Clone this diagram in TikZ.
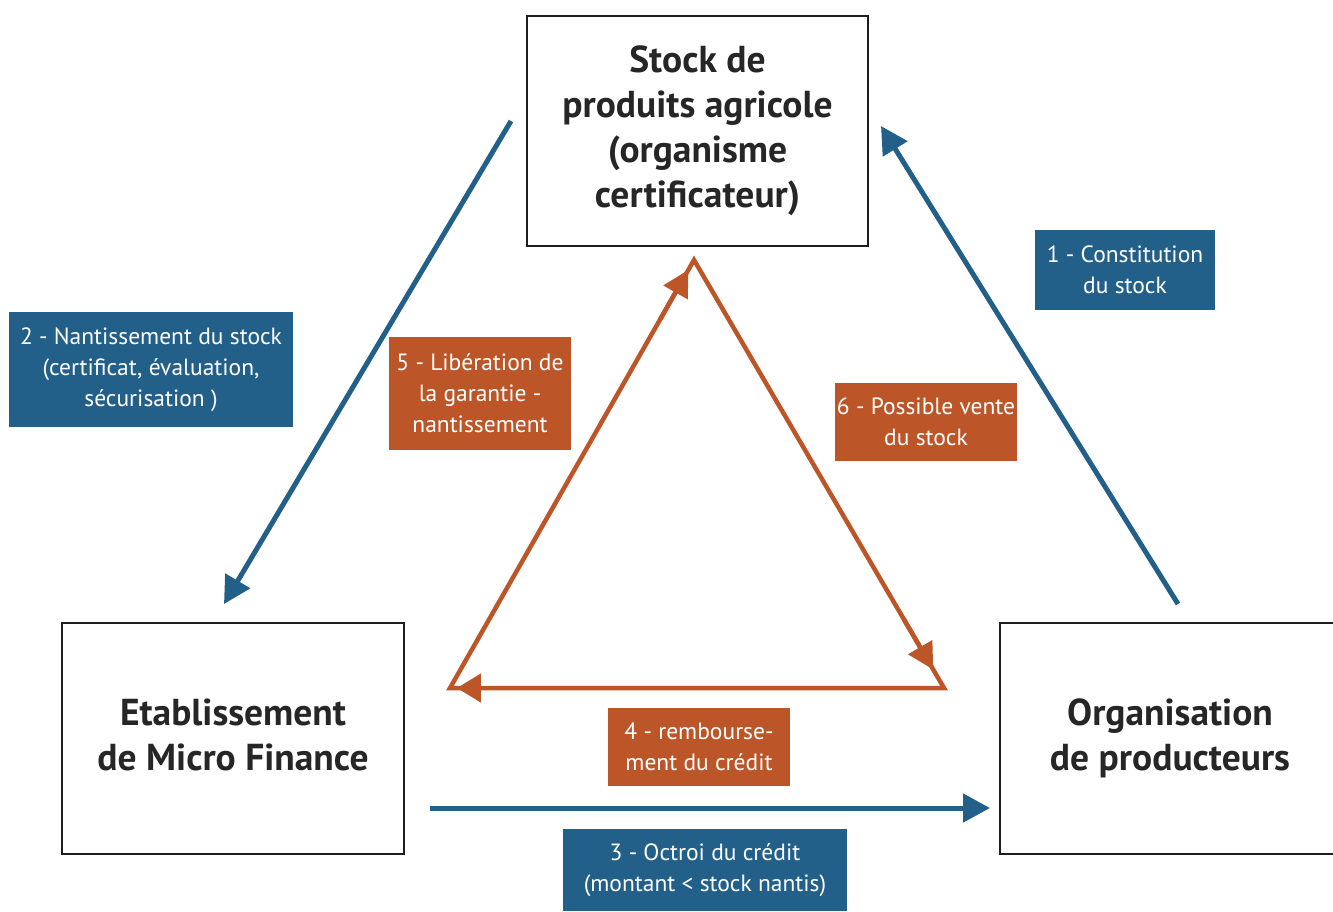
\documentclass[tikz,border=0pt]{standalone}
\usepackage{fontspec}
\setmainfont{PT Sans}
\usetikzlibrary{arrows.meta,calc}
\definecolor{bblue}{RGB}{35,96,137}
\definecolor{borange}{RGB}{188,86,40}
\definecolor{bframe}{RGB}{30,30,30}
\newcommand\liftup[2]{\raisebox{#1}{\begin{tabular}{@{}c@{}}#2\end{tabular}}}
\tikzset{
  entity/.style={draw=bframe, line width=2.6pt, fill=white, minimum width=#1, minimum height=230pt, inner sep=0pt, align=center,
    font=\bfseries\fontsize{37.5}{45}\selectfont, text=black!85},
  lbl/.style={fill=#1, text=white, inner sep=0pt, align=center, font=\fontsize{23.5}{31}\selectfont},
  bluearrow/.style={draw=bblue, line width=5pt, -{Triangle[length=27pt,width=28pt]}},
  orangeline/.style={draw=borange, line width=4.5pt, line join=miter},
}
\begin{document}
\begin{tikzpicture}[x=1pt,y=-1pt]
\useasboundingbox (0,0) rectangle (1333,911);
\clip (0,0) rectangle (1333,911);
% boxes
\node[entity=341pt] (stock) at (697.5,131) {\liftup{-1pt}{Stock de\\produits agricole\\(organisme\\certificateur)}};
\node[entity=342pt, minimum height=231pt] (emf) at (233,738.5) {\liftup{6pt}{Etablissement\\de Micro Finance}};
\node[entity=340pt, minimum height=231pt] (op) at (1170,738.5) {\liftup{5pt}{Organisation\\de producteurs}};
% blue arrow anchors
\coordinate (b2s) at (511,121);
\coordinate (b2e) at (224,604);
\coordinate (b1s) at (1178,604);
\coordinate (b1e) at (881,126);
\coordinate (b3s) at (430,808);
\coordinate (b3e) at (990,808);
\draw[bluearrow] (b2s) -- (b2e);
\draw[bluearrow] (b1s) -- (b1e);
\draw[bluearrow] (b3s) -- (b3e);
% orange triangle
\coordinate (ta) at (694,260);
\coordinate (tl) at (450,688);
\coordinate (tr) at (944,688);
\draw[orangeline] (tl) -- (ta) -- (tr) -- cycle;
\draw[orangeline, -{Triangle[length=26pt,width=27pt]}] ($(tl)!0.86!(ta)$) -- ($(tl)!0.977!(ta)$);
\draw[orangeline, -{Triangle[length=26pt,width=27pt]}] ($(ta)!0.84!(tr)$) -- ($(ta)!0.957!(tr)$);
\draw[orangeline, -{Triangle[length=24pt,width=28pt]}] ($(tr)!0.85!(tl)$) -- ($(tr)!0.986!(tl)$);
% labels
\node[lbl=bblue, minimum width=180pt, minimum height=80pt] (l1) at (1125,270) {1 - Constitution\\du stock};
\node[lbl=bblue, minimum width=284pt, minimum height=115pt] (l2) at (151,369.5) {2 - Nantissement du stock\\(certificat, évaluation,\\sécurisation )};
\node[lbl=bblue, minimum width=284pt, minimum height=82pt] (l3) at (705,870) {3 - Octroi du crédit\\(montant < stock nantis)};
\node[lbl=borange, minimum width=182pt, minimum height=78pt] (l4) at (699,747) {4 - rembourse-\\ment du crédit};
\node[lbl=borange, minimum width=182pt, minimum height=113pt] (l5) at (480,393.5) {5 - Libération de\\la garantie -\\nantissement};
\node[lbl=borange, minimum width=182pt, minimum height=78pt] (l6) at (926,422) {6 - Possible vente\\du stock};
\end{tikzpicture}
\end{document}
